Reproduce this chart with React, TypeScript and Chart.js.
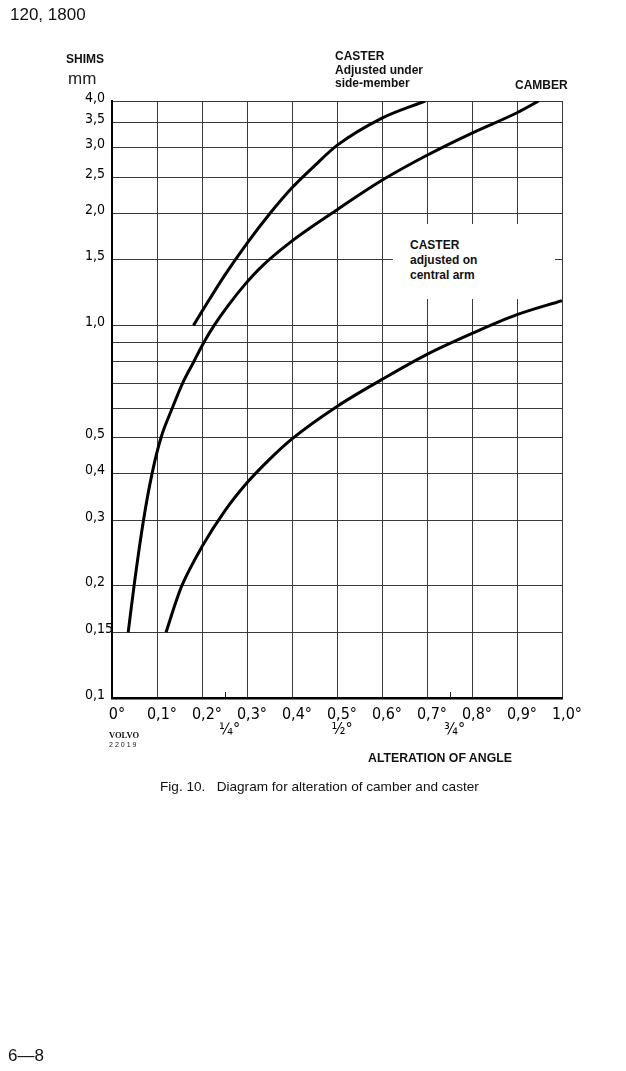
import React, { useEffect, useRef } from 'react';
import { Chart, registerables } from 'chart.js';

Chart.register(...registerables);

// Caster adjusted under side-member
const casterSideX = [0.181, 0.2, 0.25, 0.3, 0.35, 0.4, 0.45, 0.5, 0.6, 0.696];
const casterSideY = [1.0, 1.09, 1.36, 1.66, 1.99, 2.34, 2.68, 3.04, 3.6, 4.0];

// Camber
const camberX = [0.036, 0.049, 0.07, 0.089, 0.109, 0.134, 0.157, 0.182, 0.204, 0.227, 0.258, 0.296, 0.333, 0.396, 0.502, 0.6, 0.7, 0.8, 0.9, 0.948];
const camberY = [0.15, 0.2, 0.3, 0.4, 0.5, 0.6, 0.7, 0.8, 0.9, 1.0, 1.13, 1.29, 1.44, 1.67, 2.05, 2.45, 2.86, 3.28, 3.72, 4.0];

// Caster adjusted on central arm
const casterArmX = [0.12, 0.144, 0.155, 0.201, 0.25, 0.3, 0.35, 0.4, 0.5, 0.6, 0.7, 0.8, 0.9, 1.0];
const casterArmY = [0.15, 0.184, 0.2, 0.256, 0.317, 0.378, 0.437, 0.496, 0.606, 0.716, 0.836, 0.951, 1.068, 1.165];

const yTickValues = [0.1, 0.15, 0.2, 0.3, 0.4, 0.5, 0.6, 0.7, 0.8, 0.9, 1.0, 1.5, 2.0, 2.5, 3.0, 3.5, 4.0];
const yTickLabels = ['0,1', '0,15', '0,2', '0,3', '0,4', '0,5', '', '', '', '', '1,0', '1,5', '2,0', '2,5', '3,0', '3,5', '4,0'];

const xTickValues = [0, 0.1, 0.2, 0.25, 0.3, 0.4, 0.5, 0.6, 0.7, 0.75, 0.8, 0.9, 1.0];
const xTickMain = ['0°', '0,1°', '0,2°', '', '0,3°', '0,4°', '0,5°', '0,6°', '0,7°', '', '0,8°', '0,9°', '1,0°'];
const xTickSub = ['', '', '', '¼°', '', '', '½°', '', '', '¾°', '', '', ''];
const xMinorMarks = [0.25, 0.75];

const toPoints = (xs: number[], ys: number[]) => xs.map((x, i) => ({ x, y: ys[i] }));

const NARROW = "'DejaVu Sans Condensed', 'Liberation Sans Narrow', 'Arial Narrow', sans-serif";
const SANS = "'Liberation Sans', Arial, Helvetica, sans-serif";
const GRID = '#3a3a3a';

export default function App() {
  const ref = useRef<HTMLCanvasElement>(null);

  useEffect(() => {
    const canvas = ref.current;
    if (!canvas) return;

    const minorTicks = {
      id: 'minorTicks',
      afterDraw(chart: any) {
        const { ctx, chartArea } = chart;
        const xs = chart.scales.x;
        ctx.save();
        ctx.strokeStyle = '#222';
        ctx.lineWidth = 1;
        xMinorMarks.forEach((v) => {
          const px = Math.round(xs.getPixelForValue(v)) + 0.5;
          ctx.beginPath();
          ctx.moveTo(px, chartArea.bottom);
          ctx.lineTo(px, chartArea.bottom - 6);
          ctx.stroke();
        });
        ctx.restore();
      },
    };

    const lineStyle = {
      borderColor: '#000',
      borderWidth: 3,
      pointRadius: 0,
      fill: false,
      cubicInterpolationMode: 'monotone' as const,
    };

    const chart = new Chart(canvas, {
      type: 'line',
      data: {
        datasets: [
          { label: 'Caster adjusted under side-member', data: toPoints(casterSideX, casterSideY), ...lineStyle },
          { label: 'Camber', data: toPoints(camberX, camberY), ...lineStyle },
          { label: 'Caster adjusted on central arm', data: toPoints(casterArmX, casterArmY), ...lineStyle },
        ],
      },
      options: {
        animation: false,
        responsive: true,
        maintainAspectRatio: false,
        layout: { padding: { left: 85, top: 101, right: 64, bottom: 333 } },
        plugins: { legend: { display: false }, tooltip: { enabled: false } },
        scales: {
          x: {
            type: 'linear',
            min: 0,
            max: 1,
            afterBuildTicks: (scale: any) => {
              scale.ticks = xTickValues.map((v) => ({ value: v }));
            },
            afterFit: (scale: any) => {
              scale.height = 40;
            },
            grid: {
              color: (ctx: any) =>
                ctx.tick && xMinorMarks.includes(ctx.tick.value) ? 'rgba(0,0,0,0)' : GRID,
              lineWidth: 1,
              drawTicks: false,
            },
            border: { display: true, color: '#000', width: 2.5 },
            ticks: {
              autoSkip: false,
              maxRotation: 0,
              minRotation: 0,
              padding: 9,
              labelOffset: 5,
              color: '#000',
              font: { family: NARROW, size: 16, lineHeight: '15.5px' as any },
              callback: (_v: any, i: number) => [xTickMain[i], xTickSub[i]],
            },
          },
          y: {
            type: 'logarithmic',
            min: 0.1,
            max: 4,
            afterBuildTicks: (scale: any) => {
              scale.ticks = yTickValues.map((v) => ({ value: v }));
            },
            afterFit: (scale: any) => {
              scale.width = 27;
            },
            grid: { color: GRID, lineWidth: 1, drawTicks: false },
            border: { display: true, color: '#000', width: 2 },
            ticks: {
              autoSkip: false,
              crossAlign: 'far',
              padding: 0,
              labelOffset: -3,
              color: '#000',
              font: { family: NARROW, size: 14 },
              callback: (_v: any, i: number) => yTickLabels[i],
            },
          },
        },
      },
      plugins: [minorTicks],
    } as any);

    return () => chart.destroy();
  }, []);

  const abs = (left: number, top: number, extra: React.CSSProperties = {}): React.CSSProperties => ({
    position: 'absolute',
    left,
    top,
    margin: 0,
    whiteSpace: 'pre',
    lineHeight: 1,
    ...extra,
  });

  const bold12: React.CSSProperties = { fontFamily: SANS, fontWeight: 700, fontSize: 12 };

  return (
    <div style={{ position: 'absolute', left: 0, top: 0, width: 626, height: 1071, background: '#fff', color: '#111', overflow: 'hidden' }}>
      <div style={{ position: 'absolute', left: 0, top: 0, width: 626, height: 1071 }}>
        <canvas ref={ref} />
      </div>

      <div style={abs(10, 6, { fontFamily: SANS, fontSize: 17 })}>120, 1800</div>
      <div style={abs(66, 53, bold12)}>SHIMS</div>
      <div style={abs(68, 70, { fontFamily: SANS, fontSize: 17, color: '#222' })}>mm</div>

      <div style={abs(335, 50, { ...bold12, lineHeight: '13.5px' })}>
        {'CASTER\nAdjusted under\nside-member'}
      </div>
      <div style={abs(515, 79, bold12)}>CAMBER</div>

      <div style={{ position: 'absolute', left: 393, top: 224, width: 162, height: 75, background: '#fff' }}>
        <div style={abs(17, 14, { ...bold12, lineHeight: '15px' })}>
          {'CASTER\nadjusted on\ncentral arm'}
        </div>
      </div>

      <div style={abs(109, 731, { fontFamily: "'Liberation Serif', 'DejaVu Serif', serif", fontWeight: 700, fontSize: 8.5 })}>VOLVO</div>
      <div style={abs(109, 741, { fontFamily: SANS, fontSize: 7, letterSpacing: 2 })}>22019</div>

      <div style={abs(368, 752, { ...bold12, fontSize: 12.3 })}>ALTERATION OF ANGLE</div>
      <div style={abs(160, 780, { fontFamily: SANS, fontSize: 13.6 })}>{'Fig. 10.   Diagram for alteration of camber and caster'}</div>

      <div style={abs(8, 1047, { fontFamily: SANS, fontSize: 17 })}>6—8</div>
    </div>
  );
}
